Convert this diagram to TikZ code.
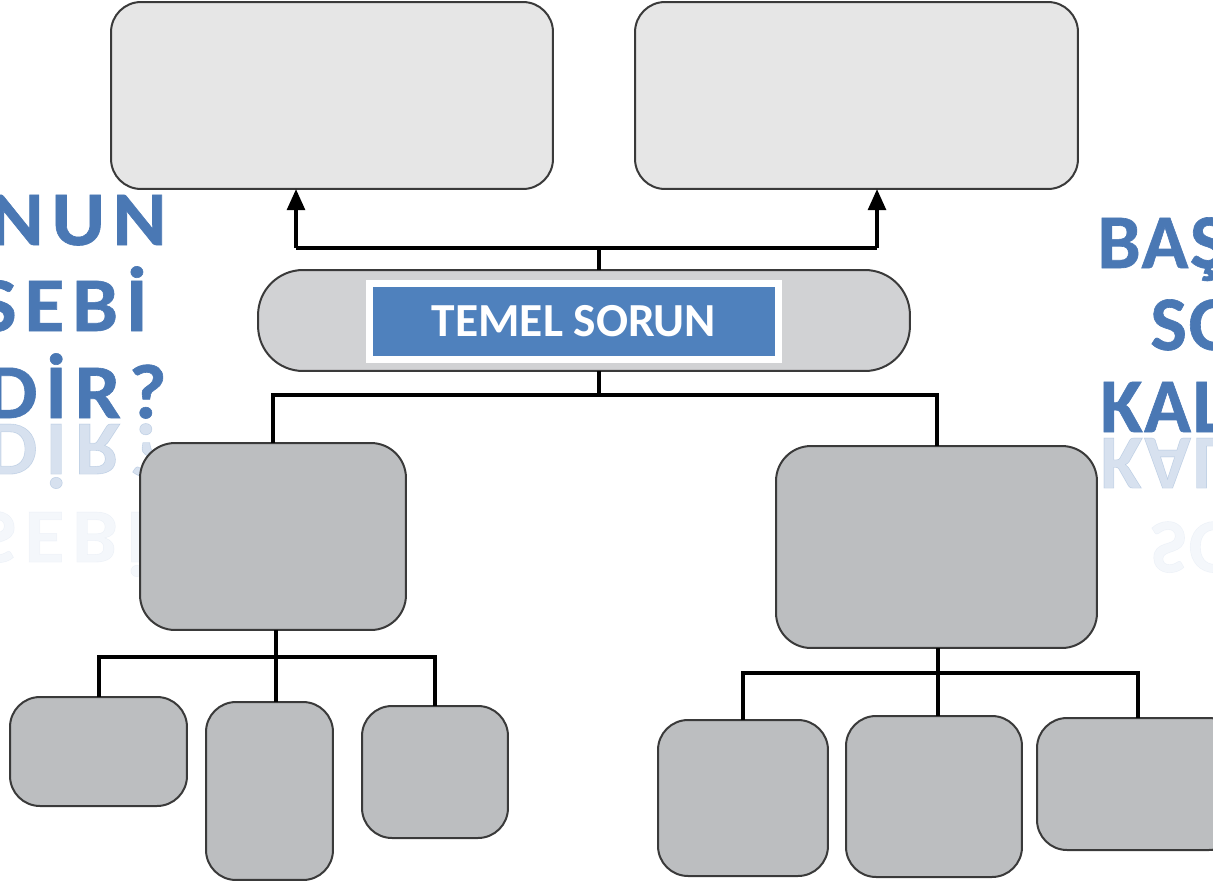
\documentclass[tikz,border=0pt]{standalone}
\usepackage{fontspec}
\usepackage{tikz}
\usetikzlibrary{calc}
\usetikzlibrary{arrows.meta,shadows}
\newfontfamily\calfont{Carlito}
\newfontfamily\wordfont{Carlito}[LetterSpace=2.0,FakeBold=0.8]
\newfontfamily\wideword{Carlito}[LetterSpace=10.0,FakeStretch=1.06,FakeBold=0.8]
\definecolor{ewewew}{rgb}{0.902,0.902,0.902}
\definecolor{drdsdu}{rgb}{0.82,0.824,0.831}
\definecolor{bcbecq}{rgb}{0.737,0.745,0.753}
\definecolor{tatata}{rgb}{0.227,0.227,0.227}
\definecolor{ufyrbd}{rgb}{0.31,0.506,0.741}
\definecolor{uaxybu}{rgb}{0.29,0.471,0.706}

\begin{document}
\begin{tikzpicture}[line cap=butt,line join=miter,x=0.02cm,y=-0.02cm,
    box/.style={rectangle,rounded corners=0.6cm,draw=tatata,line width=0.04cm,inner sep=0pt,outer sep=0pt},
    link/.style={line width=0.08cm,color=black},
    word/.style={font=\wordfont\bfseries\fontsize{44}{46}\selectfont,text=uaxybu,inner sep=0pt},
    wordL/.style={word,font=\wideword\bfseries\fontsize{44}{46}\selectfont},
    refl/.style={yscale=-1,transform shape,opacity=0.22},
    titlebox/.style={rectangle,fill=ufyrbd,draw=white,line width=0.14cm,inner sep=0pt,
        drop shadow={shadow xshift=0.6pt,shadow yshift=-1.6pt,opacity=0.35,fill=black},
        font=\calfont\bfseries\fontsize{27}{30}\selectfont,text=white}]
    \useasboundingbox (0,0) rectangle (1213,883);
    \clip (0,0) rectangle (1213,883);
    % side words
    \node [wordL,anchor=base east] (w1) at (167,245) {NUN};
    \node [wordL,anchor=base east] (w2) at (148,331) {SEBİ};
    \node [wordL,anchor=base east] (w3) at (167,418) {DİR?};
    \node [wordL,refl,anchor=base east] (w3r) at (167,424) {DİR?};
    \node [wordL,refl,anchor=base east,opacity=0.06] (w2r) at (148,512) {SEBİ};
    \node [word,anchor=base west] (e1) at (1097,268) {BAŞ};
    \node [word,anchor=base west] (e2) at (1150,350) {SO};
    \node [word,anchor=base west] (e3) at (1100,432) {KAL};
    \node [word,refl,anchor=base west] (e3r) at (1100,438) {KAL};
    \node [word,refl,anchor=base west,opacity=0.06] (e2r) at (1150,522) {SO};
    % boxes
    \node [box,fill=ewewew,minimum width=8.84cm,minimum height=3.74cm] (topL) at (332,95.5) {};
    \node [box,fill=ewewew,minimum width=8.86cm,minimum height=3.74cm] (topR) at (856.5,95.5) {};
    \node [box,fill=drdsdu,rounded corners=0.9cm,minimum width=13.04cm,minimum height=2.02cm] (core) at (584,320.5) {};
    \node [titlebox,minimum width=8.2cm,minimum height=1.52cm] (title) at (574,321) {TEMEL SORUN};
    \node [box,fill=bcbecq,rounded corners=0.7cm,minimum width=5.32cm,minimum height=3.74cm] (midL) at (273,536.5) {};
    \node [box,fill=bcbecq,rounded corners=0.7cm,minimum width=6.42cm,minimum height=4.04cm] (midR) at (936.5,547) {};
    \node [box,fill=bcbecq,minimum width=3.54cm,minimum height=2.18cm] (L1) at (98.5,751.5) {};
    \node [box,fill=bcbecq,minimum width=2.54cm,minimum height=3.56cm] (L2) at (269.5,791) {};
    \node [box,fill=bcbecq,minimum width=2.92cm,minimum height=2.64cm] (L3) at (435,772) {};
    \node [box,fill=bcbecq,minimum width=3.40cm,minimum height=3.12cm] (R1) at (743,798) {};
    \node [box,fill=bcbecq,minimum width=3.52cm,minimum height=3.22cm] (R2) at (934,796.5) {};
    \node [box,fill=bcbecq,minimum width=4.04cm,minimum height=2.64cm] (R3) at (1138,784) {};
    % connectors
    \coordinate (hubT) at (599,248);
    \coordinate (aL) at (296,248);
    \coordinate (aR) at (877,248);
    \coordinate (hubB) at (599,395);
    \coordinate (barL) at (276,657);
    \coordinate (barR) at (938,673);
    \draw [link] (core.north -| hubT) -- (hubT);
    \draw [link] (aL) -- (aR);
    \draw [link,-{Triangle[length=12pt,width=10pt]}] (aL) -- (aL |- topL.south);
    \draw [link,-{Triangle[length=12pt,width=10pt]}] (aR) -- (aR |- topR.south);
    \draw [link] (core.south -| hubB) -- (hubB);
    \draw [link] (midL.north) -- (midL.north |- hubB) -- (midR.north |- hubB) -- (midR.north);
    \draw [link] (midL.south -| barL) -- (barL);
    \draw [link] (L1.north) -- (L1.north |- barL) -- (L3.north |- barL) -- (L3.north);
    \draw [link] (barL) -- (barL |- L2.north);
    \draw [link] (midR.south -| barR) -- (barR);
    \draw [link] (R1.north) -- (R1.north |- barR) -- (R3.north |- barR) -- (R3.north);
    \draw [link] (barR) -- (barR |- R2.north);
\end{tikzpicture}
\end{document}
